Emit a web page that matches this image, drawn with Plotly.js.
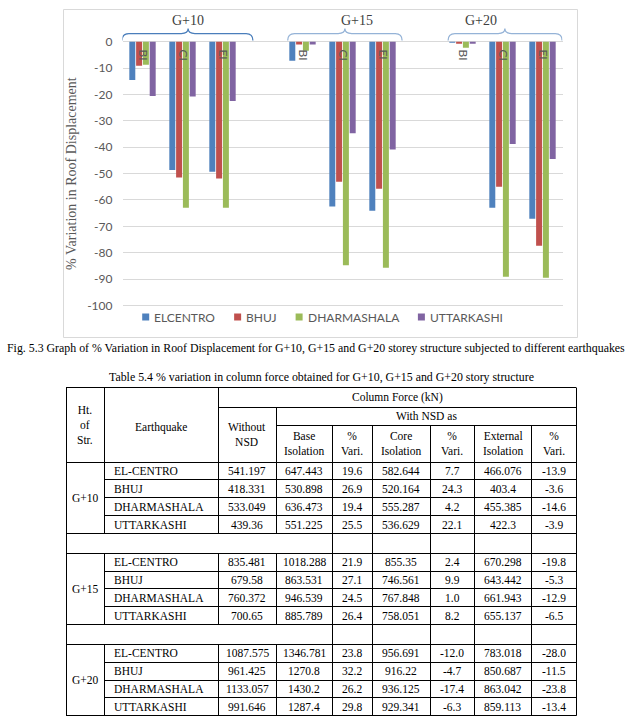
<!DOCTYPE html>
<html><head><meta charset="utf-8">
<script src="https://cdn.plot.ly/plotly-3.0.1.min.js"></script>
<style>html,body{margin:0;padding:0;background:#fff}#chart{width:640px;height:725px}</style>
</head><body><div id="chart"></div>
<script>
// ================= DATA =================
const heights = ['G+10', 'G+15', 'G+20'];
const isoTypes = ['BI', 'CI', 'EI'];
const seriesNames = ['ELCENTRO', 'BHUJ', 'DHARMASHALA', 'UTTARKASHI'];
const seriesColors = ['#4F81BD', '#C0504D', '#9BBB59', '#8064A2'];
// % variation in roof displacement, order: G+10 BI,CI,EI | G+15 BI,CI,EI | G+20 BI,CI,EI
const elcentro    = [-14.5, -48.6, -49.3,  -7.2, -62.5, -64.1,  -0.4, -62.9, -67.1];
const bhuj        = [ -9.1, -51.5, -51.9,  -1.1, -53.1, -55.7,  -0.8, -55.0, -77.4];
const dharmashala = [ -8.7, -62.9, -62.9,  -3.4, -84.7, -85.7,  -2.3, -89.1, -89.5];
const uttarkashi  = [-20.6, -20.8, -22.5,  -1.1, -34.7, -40.9,  -0.8, -38.8, -44.5];
const yTicks = [0, -10, -20, -30, -40, -50, -60, -70, -80, -90, -100];
const yTitle = '% Variation in Roof Displacement';
const figCaption = 'Fig. 5.3 Graph of % Variation in Roof Displacement for G+10, G+15 and G+20 storey structure subjected to different earthquakes';
const tableCaption = 'Table 5.4 % variation in column force obtained for G+10, G+15 and G+20 story structure';

// Table 5.4
const tblHeader = {
  ht: 'Ht.<br>of<br>Str.', eq: 'Earthquake', force: 'Column Force (kN)', without: 'Without<br>NSD',
  withNsd: 'With NSD as', base: 'Base<br>Isolation', core: 'Core<br>Isolation', ext: 'External<br>Isolation', vari: '%<br>Vari.'
};
const earthquakes = ['EL-CENTRO', 'BHUJ', 'DHARMASHALA', 'UTTARKASHI'];
const withoutNSD = ['541.197','418.331','533.049','439.36', '835.481','679.58','760.372','700.65', '1087.575','961.425','1133.057','991.646'];
const baseIso    = ['647.443','530.898','636.473','551.225', '1018.288','863.531','946.539','885.789', '1346.781','1270.8','1430.2','1287.4'];
const baseVar    = ['19.6','26.9','19.4','25.5', '21.9','27.1','24.5','26.4', '23.8','32.2','26.2','29.8'];
const coreIso    = ['582.644','520.164','555.287','536.629', '855.35','746.561','767.848','758.051', '956.691','916.22','936.125','929.341'];
const coreVar    = ['7.7','24.3','4.2','22.1', '2.4','9.9','1.0','8.2', '-12.0','-4.7','-17.4','-6.3'];
const extIso     = ['466.076','403.4','455.385','422.3', '670.298','643.442','661.943','655.137', '783.018','850.687','863.042','859.113'];
const extVar     = ['-13.9','-3.6','-14.6','-3.9', '-19.8','-5.3','-12.9','-6.5', '-28.0','-11.5','-23.8','-13.4'];

// ================= LAYOUT HELPERS =================
const W = 640, H = 725;
const py = p => 1 - p / H;
const plotL = 122.5, plotR = 562.5, plotT = 40.4, plotB = 306.8;
const GRAY = '#595959';
const SERIF = 'Liberation Serif';
const SANS = 'Lato';

function textWidth(t, font) {
  const c = document.createElement('canvas').getContext('2d');
  c.font = font; return c.measureText(t).width;
}

const xCats = [], xTickText = [];
heights.forEach((h, g) => {
  isoTypes.forEach(t => { xCats.push(h + ' ' + t); xTickText.push(t); });
  if (g < heights.length - 1) { xCats.push('gap ' + h); xTickText.push(''); }
});
function expand(vals) {
  const out = []; let k = 0;
  heights.forEach((h, g) => {
    isoTypes.forEach(() => out.push(vals[k++]));
    if (g < heights.length - 1) out.push(null);
  });
  return out;
}

const seriesVals = [elcentro, bhuj, dharmashala, uttarkashi];
const traces = seriesNames.map((n, i) => ({
  type: 'bar', name: n, x: xCats, y: expand(seriesVals[i]),
  marker: { color: seriesColors[i], line: { width: 0 } },
  showlegend: false, hoverinfo: 'skip', xaxis: 'x', yaxis: 'y'
}));
// invisible page-coordinate subplot for frame / captions / table
traces.push({ type: 'scatter', x: [], y: [], xaxis: 'x2', yaxis: 'y2', showlegend: false });

const shapes = [], annotations = [];
const crisp = v => Math.round(v - 0.5) + 0.5;
function hline(y, x0, x1, color, w) {
  shapes.push({ type: 'line', xref: 'x2', yref: 'y2', x0: x0, x1: x1, y0: crisp(y), y1: crisp(y), line: { color: color || '#000', width: w || 1 } });
}
function vline(x, y0, y1, color, w) {
  shapes.push({ type: 'line', xref: 'x2', yref: 'y2', x0: crisp(x), x1: crisp(x), y0: y0, y1: y1, line: { color: color || '#000', width: w || 1 } });
}
function txt(text, x, y, size, opts) {
  annotations.push(Object.assign({ xref: 'x2', yref: 'y2', x: x, y: y, text: text, showarrow: false,
    xanchor: 'center', yanchor: 'middle', font: { family: SERIF, size: size, color: '#000' } }, opts || {}));
}

// chart frame
shapes.push({ type: 'rect', xref: 'x2', yref: 'y2', x0: 63.5, x1: 577.5, y0: 9.5, y1: 337.5, line: { color: '#D9D9D9', width: 1 }, layer: 'below' });

// group brackets and labels (above the zero line)
const bracketSpan = [[-0.51, 2.76], [-0.37, 2.49], [-0.36, 2.49]];
const bracketPeak = [1.14, 1.06, 1.06];
const labelPos = [1.14, 1.36, 0.46];
const bracketColors = ['#4A7EBB', '#95B3D7', '#95B3D7'];
const yEnd = py(40.5), yMid = py(33.5), yPeak = py(28.5), r = 0.17;
heights.forEach((h, g) => {
  const s = g * (isoTypes.length + 1);
  const x0 = s + bracketSpan[g][0], x1 = s + bracketSpan[g][1], xc = s + bracketPeak[g];
  const path = `M${x0},${yEnd} Q${x0},${yMid} ${x0 + r},${yMid} L${xc - r},${yMid} Q${xc},${yMid} ${xc},${yPeak} ` +
               `Q${xc},${yMid} ${xc + r},${yMid} L${x1 - r},${yMid} Q${x1},${yMid} ${x1},${yEnd}`;
  shapes.push({ type: 'path', xref: 'x', yref: 'paper', path: path, line: { color: bracketColors[g], width: 1.25 } });
  annotations.push({ xref: 'x', yref: 'paper', x: s + labelPos[g], y: py(20), text: h, showarrow: false,
    xanchor: 'center', yanchor: 'middle', font: { family: SERIF, size: 14, color: '#404040' } });
});

// legend (manual, Excel style)
const legFont = '12px ' + SANS, legY = 317;
const legW = seriesNames.map(n => textWidth(n, legFont));
const legTotal = legW.reduce((a, w) => a + 11 + w, 0) + 20 * (seriesNames.length - 1);
let cx = 322 - legTotal / 2;
seriesNames.forEach((n, i) => {
  shapes.push({ type: 'rect', xref: 'x2', yref: 'y2', x0: cx, x1: cx + 7, y0: legY - 3.5, y1: legY + 3.5,
    fillcolor: seriesColors[i], line: { width: 0 } });
  annotations.push({ xref: 'x2', yref: 'y2', x: cx + 10, y: legY, text: n, showarrow: false, xanchor: 'left', yanchor: 'middle',
    font: { family: SANS, size: 12, color: GRAY } });
  cx += 11 + legW[i] + 20;
});

// ================= TABLE GEOMETRY =================
const colEdges = [66, 104, 218, 276, 332, 372, 430, 474, 531, 576];
const hTop = 387.5, h1 = 407.5, h2 = 425, hBot = 462, rowH = 17.9, blankH = 19.5;
const nData = earthquakes.length;
const blockTop = [], blockBot = [];
heights.forEach((h, g) => {
  const t = hBot + g * (nData * rowH + blankH);
  blockTop.push(t); blockBot.push(t + nData * rowH);
});
const tBot = blockBot[blockBot.length - 1];
const cc = i => (colEdges[i] + colEdges[i + 1]) / 2;
const L = colEdges[0], R = colEdges[colEdges.length - 1];

// captions
const capSize = Math.max(9, Math.min(13, 12 * 619 / textWidth(figCaption, '12px "' + SERIF + '"')));
txt(figCaption, 316, 348, capSize);
txt(tableCaption, (L + R) / 2, 377, capSize);

// horizontal rules
hline(hTop, L, R); hline(h1, colEdges[2], R); hline(h2, colEdges[3], R); hline(hBot, L, R);
heights.forEach((h, g) => {
  for (let k = 1; k < nData; k++) hline(blockTop[g] + k * rowH, colEdges[1], R);
  hline(blockBot[g], L, R);
  if (g < heights.length - 1) hline(blockBot[g] + blankH, L, R);
});
// vertical rules
vline(L, hTop, tBot); vline(R, hTop, tBot);
[1, 2].forEach(i => {
  vline(colEdges[i], hTop, blockBot[0]);
  for (let g = 1; g < heights.length; g++) vline(colEdges[i], blockTop[g], blockBot[g]);
});
vline(colEdges[3], h1, blockBot[0]);
for (let g = 1; g < heights.length; g++) vline(colEdges[3], blockTop[g], blockBot[g]);
for (let i = 4; i <= 8; i++) vline(colEdges[i], h2, tBot);

// header text
const TS = 11.5;
txt(tblHeader.ht, cc(0), (hTop + hBot) / 2, TS);
txt(tblHeader.eq, cc(1), (hTop + hBot) / 2 + 3, TS);
txt(tblHeader.force, (colEdges[2] + R) / 2, (hTop + h1) / 2, TS);
txt(tblHeader.without, cc(2), (h1 + hBot) / 2, TS);
txt(tblHeader.withNsd, (colEdges[3] + R) / 2, (h1 + h2) / 2, TS);
[[3, tblHeader.base], [4, tblHeader.vari], [5, tblHeader.core], [6, tblHeader.vari], [7, tblHeader.ext], [8, tblHeader.vari]]
  .forEach(([i, t]) => txt(t, cc(i), (h2 + hBot) / 2, TS));

// body text
const numCols = [withoutNSD, baseIso, baseVar, coreIso, coreVar, extIso, extVar];
heights.forEach((h, g) => {
  txt(h, cc(0), (blockTop[g] + blockBot[g]) / 2, TS);
  earthquakes.forEach((eq, k) => {
    const y = blockTop[g] + (k + 0.5) * rowH;
    const idx = g * nData + k;
    txt(eq, colEdges[1] + 8, y, TS, { xanchor: 'left' });
    numCols.forEach((col, c) => txt(col[idx], cc(c + 2), y, TS));
  });
});

// ================= FIGURE =================
const layout = {
  width: W, height: H, margin: { l: 0, r: 0, t: 0, b: 0, pad: 0 },
  paper_bgcolor: '#fff', plot_bgcolor: 'rgba(0,0,0,0)',
  font: { family: SANS, color: GRAY },
  barmode: 'group', bargap: 0.32, bargroupgap: 0.12, showlegend: false,
  xaxis: {
    domain: [plotL / W, plotR / W], type: 'category', categoryorder: 'array', categoryarray: xCats,
    range: [-0.5, xCats.length - 0.5], anchor: 'free', position: py(plotT), side: 'bottom',
    tickmode: 'array', tickvals: xCats, ticktext: xTickText, tickangle: 90,
    showgrid: false, showline: false, zeroline: false, ticks: '',
    tickfont: { family: SANS, size: 12, color: GRAY }, ticklabelstandoff: 8, fixedrange: true
  },
  yaxis: {
    domain: [py(plotB), py(plotT)], range: [-100.5, 0.5], anchor: 'x',
    tickmode: 'array', tickvals: yTicks, ticktext: yTicks.map(String),
    showgrid: true, gridcolor: '#D9D9D9', gridwidth: 1, zeroline: false, showline: false, ticks: '',
    tickfont: { family: SANS, size: 12, color: GRAY }, ticklabelstandoff: 9, fixedrange: true,
    title: { text: yTitle, font: { family: SERIF, size: 14, color: GRAY }, standoff: 7 }
  },
  xaxis2: { domain: [0, 1], range: [0, W], anchor: 'y2', visible: false, fixedrange: true },
  yaxis2: { domain: [0, 1], range: [H, 0], anchor: 'x2', visible: false, fixedrange: true },
  shapes: shapes, annotations: annotations
};

Plotly.newPlot('chart', traces, layout, { staticPlot: true, displayModeBar: false });
</script>
</body></html>
